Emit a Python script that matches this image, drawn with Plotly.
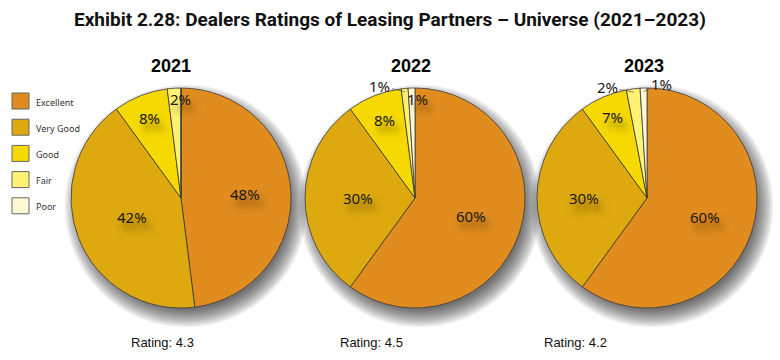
import math
import plotly.graph_objects as go

W, H = 780, 360

# ---------------- data ----------------
categories = ["Excellent", "Very Good", "Good", "Fair", "Poor"]
years = ["2021", "2022", "2023"]
values_2021 = [48, 42, 8, 2, 0]
values_2022 = [60, 30, 8, 1, 1]
values_2023 = [60, 30, 7, 2, 1]
ratings = ["4.3", "4.5", "4.2"]
title_text = "Exhibit 2.28: Dealers Ratings of Leasing Partners \u2013 Universe (2021\u20132023)"

# ---------------- style ----------------
colors = ["#E08C1E", "#DDA90F", "#F6D900", "#FFF274", "#FFF8D4"]
all_values = [values_2021, values_2022, values_2023]
centers_px = [(181, 198), (415, 198), (647, 198)]
R = 110
rating_x_px = [162, 371, 575]
year_title_x_px = [171, 411, 644]
# label placement: (mode, radius fraction, nudge x px, nudge y px)
label_styles = [
    [("in", 0.58, 0, 0), ("in", 0.48, 0, 0), ("in", 0.78, 0, 0), ("in", 0.9, 6, 0), None],
    [("in", 0.54, 0, 0), ("in", 0.52, 0, 0), ("in", 0.76, 0, 0), ("out", 0.97, -25, -6), ("in", 0.9, 6, 0)],
    [("in", 0.55, 0, 0), ("in", 0.57, 0, 0), ("in", 0.8, 0, 0), ("out", 0.97, -26, -5), ("out", 0.97, 18, -7)],
]
PCT_FONT = "Noto Sans, Open Sans, sans-serif"
HEAD_FONT = "Roboto, Liberation Sans, Arial, sans-serif"
SANS = "Liberation Sans, Arial, sans-serif"


def px2x(px):
    return px / W


def px2y(py):
    return 1 - py / H


def text_ann(px, py, text, font, **kw):
    d = dict(x=px2x(px), y=px2y(py), xref="paper", yref="paper", text=text,
             showarrow=False, xanchor="center", yanchor="middle", font=font)
    d.update(kw)
    return d


fig = go.Figure()
shapes = []
annotations = []

for i, (yr, vals) in enumerate(zip(years, all_values)):
    cx, cy = centers_px[i]
    # soft drop shadow behind pie
    for k in range(10):
        rr = R - 6 + k * 1.9
        ox, oy = cx + 5, cy + 8
        shapes.append(dict(type="circle", xref="paper", yref="paper", layer="below",
                           x0=px2x(ox - rr), x1=px2x(ox + rr), y0=px2y(oy + rr), y1=px2y(oy - rr),
                           fillcolor="rgba(0,0,0,0.075)", line=dict(width=0)))
    fig.add_trace(go.Pie(
        values=vals, labels=categories, sort=False, direction="clockwise", rotation=0,
        marker=dict(colors=colors, line=dict(color="#3a3a3a", width=0.8)),
        textinfo="none", hoverinfo="label+percent", showlegend=False,
        domain=dict(x=[px2x(cx - R), px2x(cx + R)], y=[px2y(cy + R), px2y(cy - R)]),
    ))
    total = sum(vals)
    cum = 0
    for j, v in enumerate(vals):
        mid = (cum + v / 2) / total
        cum += v
        st = label_styles[i][j]
        if st is None or v == 0:
            continue
        mode, f, nx, ny = st
        ang = 2 * math.pi * mid
        px = cx + f * R * math.sin(ang)
        py = cy - f * R * math.cos(ang)
        txt = f"{v}%"
        if mode == "in":
            annotations.append(text_ann(px + nx, py + ny, txt,
                                        dict(family=PCT_FONT, size=15, color="#1a1a1a",
                                             shadow="4px 7px 7px rgba(60,40,0,0.55)")))
        else:
            annotations.append(dict(x=px2x(px), y=px2y(py), xref="paper", yref="paper",
                                    text=txt, showarrow=True, arrowhead=0, arrowwidth=0.7,
                                    arrowcolor="#555", ax=nx, ay=ny, standoff=0,
                                    font=dict(family=PCT_FONT, size=15, color="#1a1a1a")))
    annotations.append(text_ann(year_title_x_px[i], 66, f"<b>{yr}</b>",
                                dict(family=SANS, size=18, color="#000")))
    annotations.append(text_ann(rating_x_px[i], 342, f"Rating: {ratings[i]}",
                                dict(family=SANS, size=13, color="#111")))

# manual legend
for j, (cat, col) in enumerate(zip(categories, colors)):
    yc = 101 + j * 26.2
    shapes.append(dict(type="rect", xref="paper", yref="paper",
                       x0=px2x(12), x1=px2x(29), y0=px2y(yc + 8), y1=px2y(yc - 8),
                       fillcolor=col, line=dict(color="#666", width=1)))
    annotations.append(text_ann(34, yc + 1, cat, dict(family=PCT_FONT, size=9, color="#333"),
                                xanchor="left"))

# main title
annotations.append(text_ann(390, 19, f"<b>{title_text}</b>",
                            dict(family=HEAD_FONT, size=19, color="#111")))

fig.update_layout(
    width=W, height=H, margin=dict(l=0, r=0, t=0, b=0),
    paper_bgcolor="white", plot_bgcolor="white",
    shapes=shapes, annotations=annotations,
)

fig.write_html("out.html", config={"displayModeBar": False},
               post_script="document.body.style.margin='0';")
